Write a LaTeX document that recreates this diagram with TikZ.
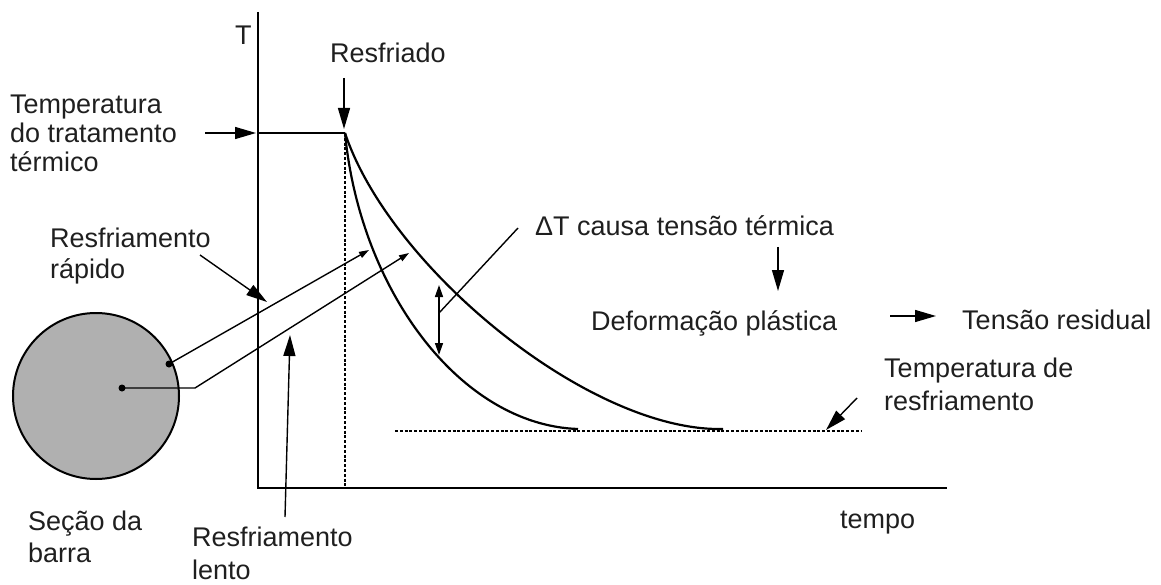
\documentclass[tikz,border=0pt]{standalone}
\usepackage{fontspec}
\setmainfont{Liberation Sans}
\usetikzlibrary{arrows.meta}
\begin{document}
\begin{tikzpicture}[x=1pt,y=-1pt,
  lbl/.style={inner sep=0pt, align=left, text=black!88, font=\fontsize{27}{31}\selectfont},
  axisline/.style={line width=2.2pt},
  curveline/.style={line width=2.2pt},
  thin/.style={line width=1.4pt},
  dashline/.style={line width=2pt, dash pattern=on 3pt off 1.8pt},
  bigarrow/.style={thin, -{Triangle[length=21pt,width=12pt]}},
  smallarrow/.style={thin, -{Triangle[length=10pt,width=6.5pt]}},
  dblarrow/.style={thin, {Triangle[length=12pt,width=8pt]}-{Triangle[length=12pt,width=8pt]}},
  dotmark/.style={circle, fill=black, inner sep=0pt, minimum size=7pt}
]
\useasboundingbox (0,0) rectangle (1161,585);

% axes
\coordinate (ytop) at (258,12);
\coordinate (orig) at (258,488);
\coordinate (xend) at (947,488);
\draw[axisline] (ytop) -- (orig) -- (xend);

% key points
\coordinate (plateau0) at (258,133);
\coordinate (q) at (345,133);
\coordinate (qbot) at (345,488);
\coordinate (fastend) at (578,429);
\coordinate (slowend) at (723,429);
\coordinate (ambL) at (395,431);
\coordinate (ambR) at (862,431);

% plateau and curves
\draw[curveline] (plateau0) -- (q);
\draw[curveline] (q) .. controls (360,290) and (460,425) .. (fastend);
\draw[curveline] (q) .. controls (390,268) and (590,432) .. (slowend);
\draw[dashline] (q) -- (qbot);
\draw[dashline] (ambL) -- (ambR);

% labels
\node[lbl, anchor=base west] (T) at (235,45) {T};
\node[lbl, anchor=base west] (resfriado) at (330,63) {Resfriado};
\node[lbl, anchor=base west, font=\fontsize{27}{29}\selectfont] (temptrat) at (10,172) {Temperatura\\do tratamento\\térmico};
\node[lbl, anchor=base west, font=\fontsize{27}{32}\selectfont] (rapido) at (50,279) {Resfriamento\\rápido};
\node[lbl, anchor=base west] (dT) at (535,236) {ΔT causa tensão térmica};
\node[lbl, anchor=base west] (deform) at (591,330) {Deformação plástica};
\node[lbl, anchor=base west] (resid) at (962,329) {Tensão residual};
\node[lbl, anchor=base west, font=\fontsize{27}{33}\selectfont] (tempres) at (884,410) {Temperatura de\\resfriamento};
\node[lbl, anchor=base west] (tempo) at (840,528) {tempo};
\node[lbl, anchor=base west, font=\fontsize{27}{32}\selectfont] (secao) at (28,562) {Seção da\\barra};
\node[lbl, anchor=base west, font=\fontsize{27}{33}\selectfont] (lento) at (192,579) {Resfriamento\\lento};

% bar section
\node[circle, draw, line width=2pt, fill=gray!62, minimum size=166pt, inner sep=0pt] (sec) at (96,396) {};
\node[dotmark] (dedge) at (169,364) {};
\node[dotmark] (dcen) at (122,388) {};
\coordinate (bend) at (195,388);
\coordinate (tipfast) at (369,250);
\coordinate (tipslow) at (409,253);
\draw[smallarrow] (dedge.center) -- (tipfast);
\draw[smallarrow] (dcen.center) -- (bend) -- (tipslow);

% annotation arrows
\coordinate (a1s) at (205,133);
\coordinate (a1e) at (256,133);
\draw[bigarrow] (a1s) -- (a1e);
\coordinate (a2s) at (344,78);
\coordinate (a2e) at (344,129);
\draw[bigarrow] (a2s) -- (a2e);
\coordinate (a3s) at (200,255);
\coordinate (a3e) at (267,302);
\draw[bigarrow] (a3s) -- (a3e);
\coordinate (a4s) at (285,517);
\coordinate (a4e) at (290,335);
\draw[bigarrow] (a4s) -- (a4e);
\coordinate (dtTop) at (439,285);
\coordinate (dtBot) at (439,355);
\draw[dblarrow] (dtTop) -- (dtBot);
\coordinate (lead0) at (439,313);
\coordinate (lead1) at (518,228);
\draw[thin] (lead0) -- (lead1);
\coordinate (a5s) at (778,247);
\coordinate (a5e) at (778,291);
\draw[bigarrow] (a5s) -- (a5e);
\coordinate (a6s) at (890,316);
\coordinate (a6e) at (936,316);
\draw[bigarrow] (a6s) -- (a6e);
\coordinate (a7s) at (857,398);
\coordinate (a7e) at (826,430);
\draw[bigarrow] (a7s) -- (a7e);
\end{tikzpicture}
\end{document}
